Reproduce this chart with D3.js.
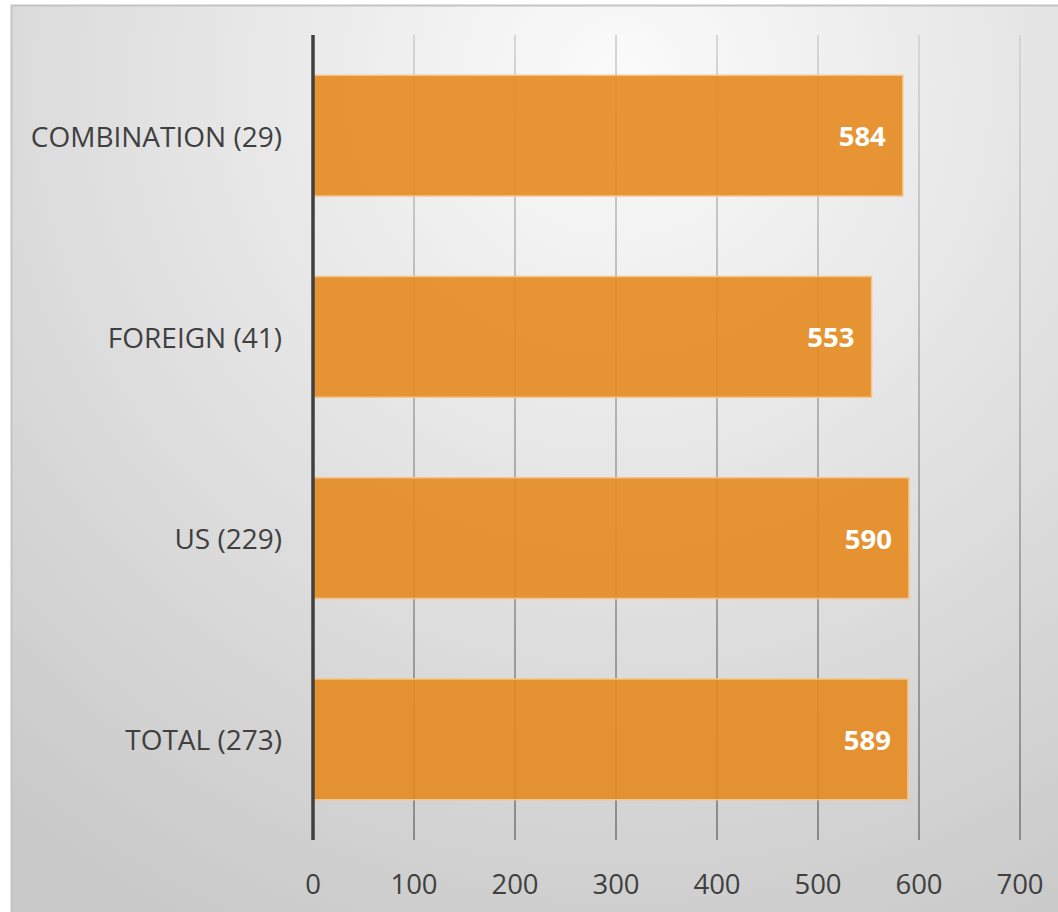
<!DOCTYPE html>
<html><head><meta charset="utf-8">
<script src="https://cdn.jsdelivr.net/npm/d3@7"></script>
<style>html,body{margin:0;padding:0;background:#fff;}svg{display:block;}</style>
</head><body>
<script>
const categories = ["COMBINATION (29)", "FOREIGN (41)", "US (229)", "TOTAL (273)"];
const values = [584, 553, 590, 589];
const tickValues = [0, 100, 200, 300, 400, 500, 600, 700];

const W = 1058, H = 912;
const svg = d3.select("body").append("svg").attr("width", W).attr("height", H);
const defs = svg.append("defs");
const rg = defs.append("radialGradient").attr("id","bg").attr("gradientUnits","userSpaceOnUse")
  .attr("cx", 620).attr("cy", 80).attr("r", 950);
rg.append("stop").attr("offset","0").attr("stop-color","#fbfbfb");
rg.append("stop").attr("offset","1").attr("stop-color","#c9c9c9");
const gg = defs.append("linearGradient").attr("id","grid").attr("gradientUnits","userSpaceOnUse")
  .attr("x1",0).attr("y1",35).attr("x2",0).attr("y2",840);
gg.append("stop").attr("offset","0").attr("stop-color","#d6d6d6");
gg.append("stop").attr("offset","1").attr("stop-color","#8a8a8a");

svg.append("rect").attr("x",11).attr("y",5).attr("width",W-11).attr("height",H-5).attr("fill","url(#bg)");
svg.append("line").attr("x1",11).attr("x2",W).attr("y1",5.5).attr("y2",5.5).attr("stroke","#c4c4c4").attr("stroke-width",2);
svg.append("line").attr("x1",11.5).attr("x2",11.5).attr("y1",5).attr("y2",H).attr("stroke","#c4c4c4").attr("stroke-width",2);

const x = d3.scaleLinear().domain([0,700]).range([313,1020]);
const y = d3.scaleBand().domain(categories).range([35,840]).paddingInner(0.4).paddingOuter(0.2);

const font = "'Open Sans', 'Noto Sans', sans-serif";

// gridlines
svg.append("g").selectAll("line").data(tickValues.slice(1)).join("line")
  .attr("x1", d=>x(d)).attr("x2", d=>x(d)).attr("y1",35).attr("y2",840)
  .attr("stroke","url(#grid)").attr("stroke-width",2);

// bars
svg.append("g").selectAll("rect").data(values).join("rect")
  .attr("x", x(0)).attr("y", (d,i)=>y(categories[i]))
  .attr("width", d=>x(d)-x(0)).attr("height", y.bandwidth())
  .attr("fill","#e48a1f").attr("fill-opacity",0.9)
  .attr("stroke","#f4c48c").attr("stroke-width",1.5);

// value labels
svg.append("g").selectAll("text").data(values).join("text")
  .attr("x", d=>x(d)-17).attr("y", (d,i)=>y(categories[i])+y.bandwidth()/2)
  .attr("text-anchor","end").attr("dominant-baseline","central")
  .attr("font-family",font).attr("font-weight","bold").attr("font-size",27.5)
  .attr("fill","#ffffff").text(d=>d);

// axis line
svg.append("line").attr("x1",x(0)).attr("x2",x(0)).attr("y1",35).attr("y2",840)
  .attr("stroke","#404040").attr("stroke-width",3.5);

// category labels
svg.append("g").selectAll("text").data(categories).join("text")
  .attr("x", 282).attr("y", d=>y(d)+y.bandwidth()/2)
  .attr("text-anchor","end").attr("dominant-baseline","central")
  .attr("font-family",font).attr("font-size",28).attr("fill","#404040").text(d=>d);

// tick labels
svg.append("g").selectAll("text").data(tickValues).join("text")
  .attr("x", d=>x(d)).attr("y", 883)
  .attr("text-anchor","middle").attr("dominant-baseline","central")
  .attr("font-family",font).attr("font-size",27.5).attr("fill","#404040").text(d=>d);
</script>
</body></html>
